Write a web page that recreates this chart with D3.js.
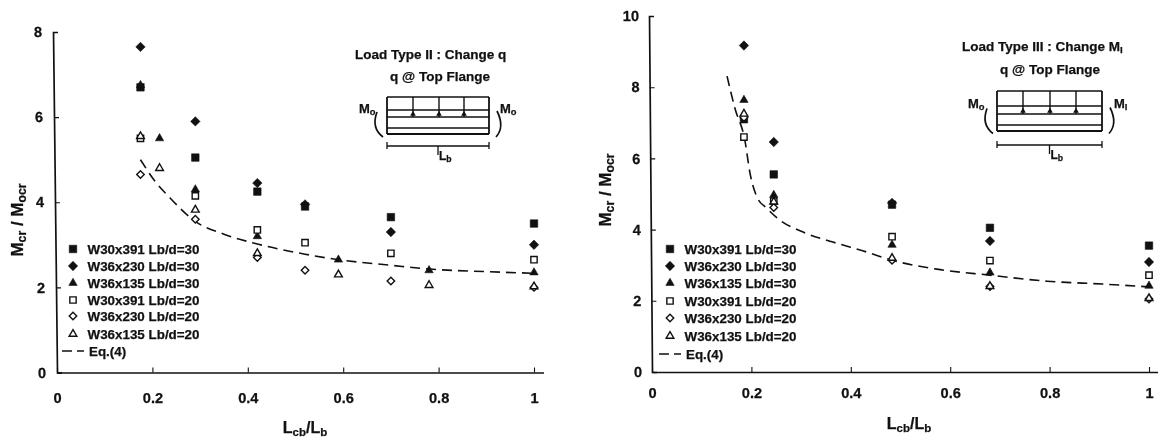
<!DOCTYPE html>
<html>
<head>
<meta charset="utf-8">
<style>
    html, body { margin: 0; padding: 0; background: #fff; }
    svg { display: block; filter: blur(0.4px); }
    text { font-family: "Liberation Sans", Arial, sans-serif; font-weight: bold; fill: #111; stroke: #111; stroke-width: 0.25px; }
</style>
</head>
<body>
<div id="chart"></div>

<script src="https://d3js.org/d3.v7.min.js"></script>
<script>
    // left panel: Load Type II
    const xTicksBoth = [0, 0.2, 0.4, 0.6, 0.8, 1];
    const yTicksLeft = [0, 2, 4, 6, 8];
    const left30x = [0.175, 0.29, 0.42, 0.52, 0.70, 1];
    const leftTriX = [0.175, 0.215, 0.29, 0.42, 0.59, 0.78, 1];
    const leftW30L30 = [6.7, 5.05, 4.25, 3.9, 3.65, 3.5];
    const leftW36aL30 = [7.65, 5.9, 4.45, 3.95, 3.3, 3.0];
    const leftW36bL30 = [6.75, 5.5, 4.3, 3.2, 2.65, 2.4, 2.35];
    const leftW30L20 = [5.5, 4.15, 3.35, 3.05, 2.8, 2.65];
    const leftW36aL20 = [4.65, 3.6, 2.7, 2.4, 2.15, 2.0];
    const leftW36bL20 = [5.55, 4.8, 3.82, 2.8, 2.3, 2.05, 2.02];
    const leftEqX = [0.175, 0.205, 0.237, 0.29, 0.35, 0.42, 0.52, 0.59, 0.70, 0.78, 0.90, 1];
    const leftEqY = [5.0, 4.5, 4.1, 3.55, 3.25, 3.02, 2.78, 2.65, 2.52, 2.43, 2.37, 2.33];

    // right panel: Load Type III
    const yTicksRight = [0, 2, 4, 6, 8, 10];
    const rightX = [0.185, 0.245, 0.483, 0.68, 1];
    const rightW30L30 = [7.1, 5.55, 4.7, 4.05, 3.55];
    const rightW36aL30 = [9.17, 6.46, 4.75, 3.68, 3.09];
    const rightW36bL30 = [7.64, 4.97, 3.57, 2.79, 2.42];
    const rightW30L20 = [6.6, 4.8, 3.8, 3.13, 2.72];
    const rightW36aL20 = [7.15, 4.62, 3.14, 2.4, 2.05];
    const rightW36bL20 = [7.25, 4.78, 3.2, 2.41, 2.07];
    const rightEqX = [0.151, 0.167, 0.187, 0.197, 0.211, 0.231, 0.254, 0.304, 0.364, 0.432, 0.483, 0.573, 0.68, 0.795, 0.907, 1];
    const rightEqY = [8.31, 7.4, 6.5, 5.6, 4.92, 4.6, 4.3, 3.93, 3.65, 3.37, 3.14, 2.89, 2.72, 2.55, 2.47, 2.39];

    const legendLabels = ["W30x391 Lb/d=30", "W36x230 Lb/d=30", "W36x135 Lb/d=30",
        "W30x391 Lb/d=20", "W36x230 Lb/d=20", "W36x135 Lb/d=20"];

    // d3's own diamond is too narrow for these markers
    const wideDiamond = {
        draw(ctx, size) {
            const r = Math.sqrt(size);
            ctx.moveTo(0, -r);
            ctx.lineTo(r, 0);
            ctx.lineTo(0, r);
            ctx.lineTo(-r, 0);
            ctx.closePath();
        }
    };
    const markerTypes = [d3.symbolSquare, wideDiamond, d3.symbolTriangle,
        d3.symbolSquare, wideDiamond, d3.symbolTriangle];
    const markerSizes = [56, 22, 30, 40, 14, 26];

    const width = 1158;
    const height = 439;
    const ink = "#111";

    const svg = d3.select("#chart")
        .append("svg")
        .attr("width", width)
        .attr("height", height);

    function marker(g, i, x, y) {
        const filled = i < 3;
        g.append("path")
            .attr("transform", `translate(${x},${y})`)
            .attr("d", d3.symbol().type(markerTypes[i]).size(markerSizes[i])())
            .attr("fill", filled ? ink : "#fff")
            .attr("stroke", ink)
            .attr("stroke-width", filled ? 0.6 : 1.4);
    }

    function subText(sel, parts) {
        // parts: [text, isSubscript, backToBaseline]
        parts.forEach(p => {
            sel.append("tspan")
                .attr("font-size", p[1] ? "0.72em" : null)
                .attr("dy", p[1] ? "0.22em" : p[2] ? "-0.16em" : null)
                .text(p[0]);
        });
    }

    function drawPanel(p) {
        const g = svg.append("g");
        const x = d3.scaleLinear().domain([0, 1.02]).range([p.x0, p.x0 + (p.x1 - p.x0) * 1.02]);
        const y = d3.scaleLinear().domain([0, p.yMax]).range([p.y0, p.yTop]);

        // the scanned y axis leans slightly
        const yAxis = g.append("g")
            .attr("transform", `translate(${p.x0},${p.y0}) skewX(${p.lean}) translate(0,${-p.y0})`)
            .call(d3.axisLeft(y).tickValues(p.yTicks).tickFormat(d3.format("~g")).tickSize(-5).tickPadding(p.yPad));
        const xAxis = g.append("g")
            .attr("transform", `translate(0,${p.y0})`)
            .call(d3.axisBottom(x).tickValues(xTicksBoth).tickFormat(d3.format("~g")).tickSize(-5).tickPadding(p.xPad).tickSizeOuter(0));
        [yAxis, xAxis].forEach(a => {
            a.selectAll("path").attr("stroke", ink).attr("stroke-width", 1.7);
            a.selectAll("line").attr("stroke", ink).attr("stroke-width", 1.1);
            a.selectAll("text").attr("font-size", 14.6).attr("fill", ink);
        });

        const line = d3.line().x(d => x(d[0])).y(d => y(d[1])).curve(d3.curveMonotoneX);
        g.append("path")
            .datum(d3.zip(p.eqX, p.eqY))
            .attr("d", line)
            .attr("fill", "none")
            .attr("stroke", ink)
            .attr("stroke-width", 1.6)
            .attr("stroke-dasharray", "10 6");

        p.series.forEach((s, i) => {
            d3.zip(s.x, s.y).forEach(d => marker(g, i, x(d[0]), y(d[1])));
        });

        // legend
        legendLabels.forEach((label, i) => {
            marker(g, i, p.legendX, p.legendY[i]);
            g.append("text")
                .attr("x", p.legendX + 14.5)
                .attr("y", p.legendY[i] + 5)
                .attr("font-size", 13.4)
                .text(label);
        });
        g.append("line")
            .attr("x1", p.legendX - 11).attr("x2", p.legendX + 11)
            .attr("y1", p.legendY[6]).attr("y2", p.legendY[6])
            .attr("stroke", ink).attr("stroke-width", 1.5)
            .attr("stroke-dasharray", "10 5");
        g.append("text")
            .attr("x", p.legendX + 16)
            .attr("y", p.legendY[6] + 5)
            .attr("font-size", 13.4)
            .text("Eq.(4)");

        // axis titles
        const xt = g.append("text")
            .attr("x", p.xTitleX).attr("y", p.xTitleY)
            .attr("text-anchor", "middle")
            .attr("font-size", 16);
        subText(xt, [["L"], ["cb", 1], ["/L", 0, 1], ["b", 1]]);

        const yt = g.append("text")
            .attr("transform", `translate(${p.yTitleX},${p.yTitleY}) rotate(-90)`)
            .attr("text-anchor", "middle")
            .attr("font-size", 17);
        subText(yt, [["M"], ["cr", 1], [" / M", 0, 1], ["ocr", 1]]);

        // header
        const h1 = g.append("text")
            .attr("x", p.headX).attr("y", p.headY)
            .attr("font-size", 13.5);
        subText(h1, p.head);
        g.append("text")
            .attr("x", p.head2X).attr("y", p.headY + p.headGap)
            .attr("font-size", 13.5)
            .text("q @ Top Flange");

        drawBeam(g, p.beam);
    }

    // little beam sketch next to the header
    function drawBeam(g, b) {
        const s = g.append("g").attr("fill", "none").attr("stroke", ink);
        const seg = (x1, y1, x2, y2, w) => s.append("line")
            .attr("x1", x1).attr("y1", y1).attr("x2", x2).attr("y2", y2)
            .attr("stroke-width", w || 1.3);
        b.rows.forEach((r, i) => seg(b.l, r, b.r, r, i === 4 ? 2 : 1.5));
        seg(b.l, b.rows[0], b.l, b.rows[4], 1.8);
        seg(b.r, b.rows[0], b.r, b.rows[4], 1.8);
        b.posts.forEach(px => {
            seg(px, b.rows[0], px, b.rows[2], 1.4);
            s.append("path")
                .attr("d", d3.symbol().type(d3.symbolTriangle).size(14)())
                .attr("transform", `translate(${px},${b.rows[2] - 3})`)
                .attr("fill", ink).attr("stroke", "none");
        });
        // dimension line
        seg(b.l, b.dim, b.r, b.dim, 1.5);
        seg(b.l, b.dim - 4, b.l, b.dim + 3);
        seg(b.r, b.dim - 4, b.r, b.dim + 3);
        seg((b.l + b.r) / 2, b.dim, (b.l + b.r) / 2, b.dim + 9);
        // end moments
        const midY = (b.rows[1] + b.rows[4]) / 2 + 2;
        s.append("path").attr("d", `M${b.l - 10},${midY - 12}Q${b.l - 16},${midY + 4} ${b.l - 4},${midY + 13}`).attr("stroke-width", 1.7);
        s.append("path").attr("d", `M${b.r + 8},${midY - 13}Q${b.r + 16},${midY + 3} ${b.r + 7},${midY + 13}`).attr("stroke-width", 1.7);
        const lab = (tx, ty, main, sub, sz) => {
            const t = g.append("text").attr("x", tx).attr("y", ty).attr("font-size", sz || 13);
            subText(t, [[main], [sub, 1]]);
        };
        lab(b.labL, b.labY, "M", "o");
        lab(b.labR, b.labY, "M", b.endLabel);
        lab((b.l + b.r) / 2 + 1, b.dim + 14, "L", "b", 12);
    }

    drawPanel({
        x0: 57, x1: 534, y0: 372.5, yTop: 32, yMax: 8, lean: 0.67,
        yTicks: yTicksLeft, yPad: 11, xPad: 20,
        eqX: leftEqX, eqY: leftEqY,
        series: [
            { x: left30x, y: leftW30L30 },
            { x: left30x, y: leftW36aL30 },
            { x: leftTriX, y: leftW36bL30 },
            { x: left30x, y: leftW30L20 },
            { x: left30x, y: leftW36aL20 },
            { x: leftTriX, y: leftW36bL20 }
        ],
        legendX: 73, legendY: [249, 266, 283, 300, 316, 334, 351],
        xTitleX: 305, xTitleY: 433, yTitleX: 23, yTitleY: 220,
        headX: 355, head2X: 390, headY: 59, headGap: 22,
        head: [["Load Type II : Change q"]],
        beam: { l: 387, r: 489, rows: [97, 110, 117, 128, 134], posts: [413, 439, 464], dim: 146, endLabel: "o", labL: 359, labR: 500, labY: 113 }
    });

    drawPanel({
        x0: 652, x1: 1149, y0: 372, yTop: 16, yMax: 10, lean: 0.48,
        yTicks: yTicksRight, yPad: 10, xPad: 16,
        eqX: rightEqX, eqY: rightEqY,
        series: [
            { x: rightX, y: rightW30L30 },
            { x: rightX, y: rightW36aL30 },
            { x: rightX, y: rightW36bL30 },
            { x: rightX, y: rightW30L20 },
            { x: rightX, y: rightW36aL20 },
            { x: rightX, y: rightW36bL20 }
        ],
        legendX: 670, legendY: [249, 266, 283, 301, 318, 336, 354],
        xTitleX: 909, xTitleY: 429, yTitleX: 611, yTitleY: 190,
        headX: 962, head2X: 1000, headY: 51, headGap: 23,
        head: [["Load Type III : Change M"], ["I", 1]],
        beam: { l: 997, r: 1102, rows: [91, 106, 114, 125, 131], posts: [1023, 1050, 1076], dim: 145, endLabel: "I", labL: 968, labR: 1114, labY: 108 }
    });
</script>
</body>
</html>
